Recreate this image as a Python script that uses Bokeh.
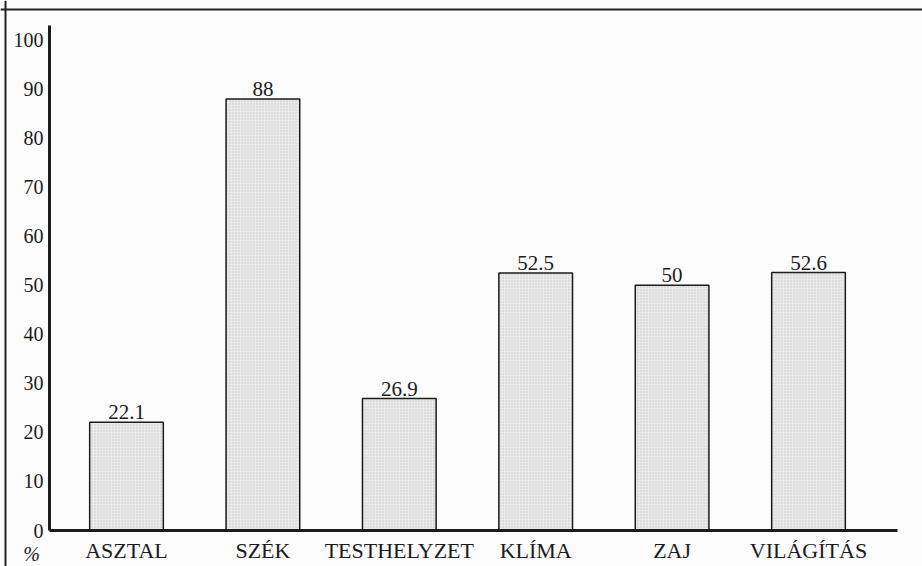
import numpy as np
from bokeh.plotting import figure
from bokeh.models import ColumnDataSource, Range1d, FixedTicker, Label, LabelSet, Span
from bokeh.core.properties import value
from bokeh.embed import file_html
from bokeh.resources import INLINE

categories = ["ASZTAL", "SZÉK", "TESTHELYZET", "KLÍMA", "ZAJ", "VILÁGÍTÁS"]
values = [22.1, 88, 26.9, 52.5, 50, 52.6]
value_labels = ["22.1", "88", "26.9", "52.5", "50", "52.6"]
y_ticks = [0, 10, 20, 30, 40, 50, 60, 70, 80, 90, 100]
y_max = 103

FONT = "Liberation Serif"
INK = "#1b1b1b"

W, H = 922, 566
# pixel calibration of the canvas (frame fills whole canvas)
X0_PX, X_STEP_PX = 126.0, 136.4      # first category centre, spacing
Y0_PX, Y_UNIT_PX = 530.0, 505.0 / y_max


def xd(px):
    return (px - X0_PX) / X_STEP_PX


def yd(py):
    return (Y0_PX - py) / Y_UNIT_PX


xs = np.arange(len(categories))
src = ColumnDataSource(dict(x=xs, top=values, label=value_labels))

p = figure(width=W, height=H, output_backend="svg", toolbar_location=None,
           x_range=Range1d(xd(0), xd(W)), y_range=Range1d(yd(H), yd(0)),
           min_border=0, min_border_left=0, min_border_right=0,
           min_border_top=0, min_border_bottom=0,
           background_fill_color="#fcfcfc", border_fill_color="#fcfcfc")
p.outline_line_color = None
p.grid.visible = False

# outer box (top and left edges of the scanned frame)
p.add_layout(Span(location=yd(9), dimension="width", line_color="#222222", line_width=2))
p.add_layout(Span(location=xd(5), dimension="height", line_color="#222222", line_width=2))

p.vbar(x="x", top="top", bottom=0, width=0.54, source=src,
       fill_color="#eaeaea", line_color=INK, line_width=1.5,
       hatch_pattern="dot", hatch_scale=3, hatch_color="#b8b8b8", hatch_alpha=0.7)

labels = LabelSet(x="x", y="top", text="label", source=src, y_offset=3,
                  text_align="center", text_baseline="bottom",
                  text_font=value(FONT), text_font_size=value("21px"), text_color=INK)
p.add_layout(labels)

# axes, placed inside the frame
x_left, x_right = xd(49), xd(897)
p.yaxis.fixed_location = x_left
p.yaxis.bounds = (0, y_max)
p.yaxis.ticker = FixedTicker(ticks=y_ticks)
p.yaxis.axis_line_width = 3
p.yaxis.axis_line_color = INK
p.yaxis.major_tick_line_color = None
p.yaxis.minor_tick_line_color = None
p.yaxis.major_tick_out = 0
p.yaxis.major_tick_in = 0
p.yaxis.major_label_standoff = 6
p.yaxis.major_label_text_font = FONT
p.yaxis.major_label_text_font_size = "20px"
p.yaxis.major_label_text_color = INK

p.xaxis.fixed_location = 0
p.xaxis.bounds = (x_left, x_right)
p.xaxis.ticker = FixedTicker(ticks=list(xs))
p.xaxis.major_label_overrides = {int(i): c for i, c in zip(xs, categories)}
p.xaxis.axis_line_width = 3
p.xaxis.axis_line_color = INK
p.xaxis.major_tick_line_color = None
p.xaxis.minor_tick_line_color = None
p.xaxis.major_tick_out = 0
p.xaxis.major_tick_in = 0
p.xaxis.major_label_standoff = 7
p.xaxis.major_label_text_font = FONT
p.xaxis.major_label_text_font_size = "22px"
p.xaxis.major_label_text_color = INK

pct = Label(x=xd(31), y=yd(553), text="%",
            text_align="center", text_baseline="middle",
            text_font=FONT, text_font_style="italic", text_font_size="20px",
            text_color=INK)
p.add_layout(pct)

open("out.html", "w").write(file_html(p, INLINE))
